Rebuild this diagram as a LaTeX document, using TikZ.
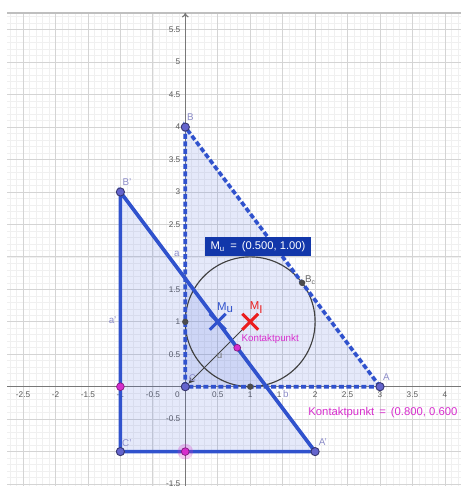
\documentclass[tikz,border=0pt]{standalone}
\usepackage{fontspec}
\setmainfont{Liberation Sans}
\usetikzlibrary{arrows.meta, shapes.misc}
\definecolor{ggblue}{RGB}{48,82,205}
\definecolor{ggfill}{RGB}{70,100,220}
\definecolor{ggpoint}{RGB}{100,100,205}
\definecolor{gglabel}{RGB}{140,140,200}
\definecolor{ggmag}{RGB}{215,45,205}
\definecolor{ggred}{RGB}{235,30,30}
\definecolor{ggbox}{RGB}{18,55,170}
\definecolor{ggaxis}{RGB}{120,120,120}

\begin{document}
\begin{tikzpicture}[
	minorgrid/.style={draw=black!6, line width=0.25pt},
	majorgrid/.style={draw=black!17, line width=0.35pt},
	axis/.style={draw=ggaxis, line width=0.5pt},
	ticklab/.style={text=black!65, font=\fontsize{3.6}{4}\selectfont, inner sep=0pt},
	side/.style={draw=ggblue, line width=1.6pt},
	sidedash/.style={side, dash pattern=on 2.2pt off 1.1pt},
	trifill/.style={fill=ggfill, fill opacity=0.14},
	pt/.style={circle, fill=ggpoint, draw=ggpoint!55!black, line width=0.4pt, inner sep=0pt, minimum size=3.6pt},
	blackpt/.style={circle, fill=black!70, inner sep=0pt, minimum size=2.8pt},
	magpt/.style={circle, fill=ggmag, draw=ggmag!60!black, line width=0.3pt, inner sep=0pt, minimum size=3.4pt},
	halo/.style={circle, fill=ggmag, fill opacity=0.25, inner sep=0pt, minimum size=0.24cm},
	ptlab/.style={text=gglabel, font=\fontsize{4.3}{5}\selectfont, inner sep=0pt},
	centre/.style={cross out, draw, line width=1.3pt, minimum size=0.2cm, inner sep=0pt}
	]
	\useasboundingbox (-2.855,-1.561) rectangle (4.248,5.958);
	\clip (-2.855,-1.561) rectangle (4.248,5.958);
	\draw[minorgrid, step=0.1] (-2.74,-1.53) grid (4.3,5.76);
	\draw[majorgrid, step=0.5] (-2.74,-1.53) grid (4.3,5.76);
	\draw[draw=black!25, line width=0.6pt] (-2.74,5.76) -- (4.3,5.76);
	\coordinate (xl) at (-2.74,0);
	\coordinate (xr) at (4.3,0);
	\coordinate (yb) at (0,-1.53);
	\coordinate (yt) at (0,5.76);
	\draw[axis] (xl) -- (xr);
	\draw[axis, -{To[length=2pt, width=3pt]}] (yb) -- (yt);
	\foreach \x [count=\i] in {-2.5,-2,-1.5,-1,-0.5,0.5,1,1.5,2,2.5,3,3.5,4}
		\node[ticklab] (tx\i) at (\x,-0.13) {\x};
	\foreach \y [count=\i] in {-1.5,-0.5,0.5,1,1.5,2.5,3,3.5,4,4.5,5,5.5}
		\node[ticklab, anchor=east] (ty\i) at (-0.07,\y) {\y};
	\node[ticklab] (t0) at (-0.12,-0.13) {0};

	\coordinate (A) at (3,0);
	\coordinate (B) at (0,4);
	\coordinate (C) at (0,0);
	\coordinate (A1) at (2,-1);
	\coordinate (B1) at (-1,3);
	\coordinate (C1) at (-1,-1);
	\coordinate (MI) at (1,1);
	\coordinate (Mu) at (0.5,1);
	\coordinate (K) at (0.8,0.6);

	\fill[trifill] (A) -- (B) -- (C) -- cycle;
	\fill[trifill] (A1) -- (B1) -- (C1) -- cycle;
	\draw[black!75, line width=0.5pt] (MI) circle (1);
	\draw[black!75, line width=0.45pt, -{Stealth[length=2.6pt, width=2.4pt]}, shorten >=2pt] (MI) -- (C);
	\draw[sidedash] (A) -- (B) -- (C) -- cycle;
	\draw[side] (A1) -- (B1) -- (C1) -- cycle;

	\node[centre, draw=ggblue] (xMu) at (Mu) {};
	\node[centre, draw=ggred] (xMI) at (MI) {};

	\node[blackpt] (T1) at (1,0) {};
	\node[blackpt] (T2) at (0,1) {};
	\node[blackpt] (Bc) at (1.8,1.6) {};
	\node[magpt] (S1) at (-1,0) {};
	\node[halo] (H2) at (0,-1) {};
	\node[magpt] (S2) at (0,-1) {};
	\node[magpt, minimum size=3pt] (pK) at (K) {};
	\node[pt] (pA) at (A) {};
	\node[pt] (pB) at (B) {};
	\node[pt] (pC) at (C) {};
	\node[pt] (pA1) at (A1) {};
	\node[pt] (pB1) at (B1) {};
	\node[pt] (pC1) at (C1) {};

	\node[ptlab] (lA) at (3.1,0.15) {A};
	\node[ptlab] (lB) at (0.08,4.15) {B};
	\node[ptlab] (lC) at (0.11,0.13) {C};
	\node[ptlab] (lA1) at (2.12,-0.85) {A'};
	\node[ptlab] (lB1) at (-0.9,3.15) {B'};
	\node[ptlab] (lC1) at (-0.9,-0.87) {C'};
	\node[ptlab] (la) at (-0.13,2.04) {a};
	\node[ptlab] (la1) at (-1.12,1.02) {a'};
	\node[ptlab, fill=white, inner sep=0.3pt] (lb) at (1.55,-0.11) {b};
	\node[ptlab, text=black!55] (lu) at (0.53,0.48) {u};
	\node[ptlab, text=black!60, anchor=west] (lBc) at (1.84,1.64) {B\textsubscript{c}};
	\node[ptlab, text=ggblue, font=\fontsize{5}{6}\selectfont] (lMu) at (0.62,1.22) {M\textsubscript{u}};
	\node[ptlab, text=ggred, font=\fontsize{5}{6}\selectfont] (lMI) at (1.1,1.22) {M\textsubscript{I}};
	\node[ptlab, text=ggmag, anchor=west] (lK) at (0.86,0.74) {Kontaktpunkt};
	\node[fill=ggbox, text=white, font=\fontsize{4.9}{6}\selectfont, minimum width=1.63cm, minimum height=0.29cm, inner sep=0pt] (box) at (1.12,2.16) {M\textsubscript{u} \,=\, (0.500, 1.00)};
	\node[text=ggmag, font=\fontsize{4.95}{6}\selectfont, anchor=west, inner sep=0pt] (kval) at (1.89,-0.405) {Kontaktpunkt \,=\, (0.800, 0.600};
\end{tikzpicture}
\end{document}
